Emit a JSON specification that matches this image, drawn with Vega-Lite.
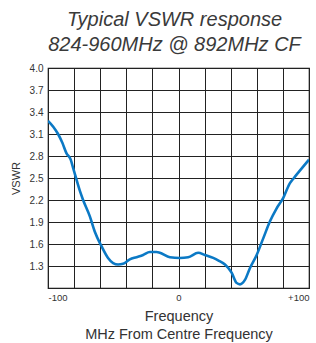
{
  "$schema": "https://vega.github.io/schema/vega-lite/v6.json",
  "autosize": "none",
  "width": 261,
  "height": 220,
  "padding": {"left": 48, "top": 68, "right": 7, "bottom": 55},
  "background": "white",
  "title": {
    "text": ["Typical VSWR response", "824-960MHz @ 892MHz CF"],
    "font": "Liberation Sans",
    "fontSize": 20,
    "fontStyle": "italic",
    "fontWeight": "normal",
    "color": "#3a3a3a",
    "lineHeight": 25,
    "anchor": "middle",
    "dx": -4,
    "offset": 8
  },
  "config": {
    "view": {"stroke": "#111111", "strokeWidth": 1.2},
    "axis": {
      "labelFont": "Liberation Sans",
      "titleFont": "Liberation Sans",
      "labelColor": "#333333",
      "titleColor": "#333333",
      "titleFontWeight": "normal",
      "gridColor": "#222222",
      "gridOpacity": 1,
      "gridWidth": 1,
      "domain": false,
      "ticks": false
    }
  },
  "data": {
    "values": [
      {"f": -100, "vswr": 3.28},
      {"f": -96, "vswr": 3.2},
      {"f": -92.3, "vswr": 3.1},
      {"f": -89, "vswr": 2.98},
      {"f": -85.9, "vswr": 2.84},
      {"f": -82.6, "vswr": 2.75},
      {"f": -80.5, "vswr": 2.62},
      {"f": -78.2, "vswr": 2.48},
      {"f": -75.5, "vswr": 2.32},
      {"f": -73.1, "vswr": 2.2},
      {"f": -68, "vswr": 1.98},
      {"f": -64.2, "vswr": 1.77},
      {"f": -59, "vswr": 1.57},
      {"f": -54, "vswr": 1.41},
      {"f": -50.1, "vswr": 1.34},
      {"f": -46.3, "vswr": 1.32},
      {"f": -42.5, "vswr": 1.33},
      {"f": -37.3, "vswr": 1.39},
      {"f": -32.2, "vswr": 1.42},
      {"f": -27.1, "vswr": 1.45},
      {"f": -22, "vswr": 1.49},
      {"f": -16.8, "vswr": 1.49},
      {"f": -14.3, "vswr": 1.48},
      {"f": -6.6, "vswr": 1.42},
      {"f": 1, "vswr": 1.41},
      {"f": 7.4, "vswr": 1.42},
      {"f": 15.1, "vswr": 1.48},
      {"f": 20.2, "vswr": 1.45},
      {"f": 26.6, "vswr": 1.41},
      {"f": 31, "vswr": 1.37},
      {"f": 35.6, "vswr": 1.32},
      {"f": 40.7, "vswr": 1.21},
      {"f": 44.5, "vswr": 1.07},
      {"f": 47.1, "vswr": 1.05},
      {"f": 50.9, "vswr": 1.11},
      {"f": 54.7, "vswr": 1.27},
      {"f": 59.9, "vswr": 1.45},
      {"f": 65, "vswr": 1.68},
      {"f": 70.1, "vswr": 1.91},
      {"f": 75, "vswr": 2.08},
      {"f": 80.3, "vswr": 2.23},
      {"f": 85.4, "vswr": 2.43},
      {"f": 88, "vswr": 2.49},
      {"f": 93, "vswr": 2.6},
      {"f": 100, "vswr": 2.75}
    ]
  },
  "mark": {"type": "line", "color": "#0b79c5", "strokeWidth": 2.6, "interpolate": "monotone", "clip": true},
  "encoding": {
    "x": {
      "field": "f",
      "type": "quantitative",
      "scale": {"domain": [-100, 100], "nice": false, "zero": false},
      "axis": {
        "values": [-100, -80, -60, -40, -20, 0, 20, 40, 60, 80, 100],
        "labelExpr": "datum.value == -100 ? '-100' : datum.value == 0 ? '0' : datum.value == 100 ? '+100' : ''",
        "labelFontSize": 9.5,
        "labelPadding": 4,
        "title": ["Frequency", "MHz From Centre Frequency"],
        "titleFontSize": 14.5,
        "titlePadding": 8,
        "titleLineHeight": 18
      }
    },
    "y": {
      "field": "vswr",
      "type": "quantitative",
      "scale": {"domain": [1, 4], "nice": false, "zero": false},
      "axis": {
        "values": [1.0, 1.3, 1.6, 1.9, 2.2, 2.5, 2.8, 3.1, 3.4, 3.7, 4.0],
        "labelExpr": "datum.value < 1.1 ? '' : format(datum.value, '.1f')",
        "labelFontSize": 10,
        "labelPadding": 5,
        "title": "VSWR",
        "titleFontSize": 11,
        "titlePadding": 8
      }
    }
  }
}
